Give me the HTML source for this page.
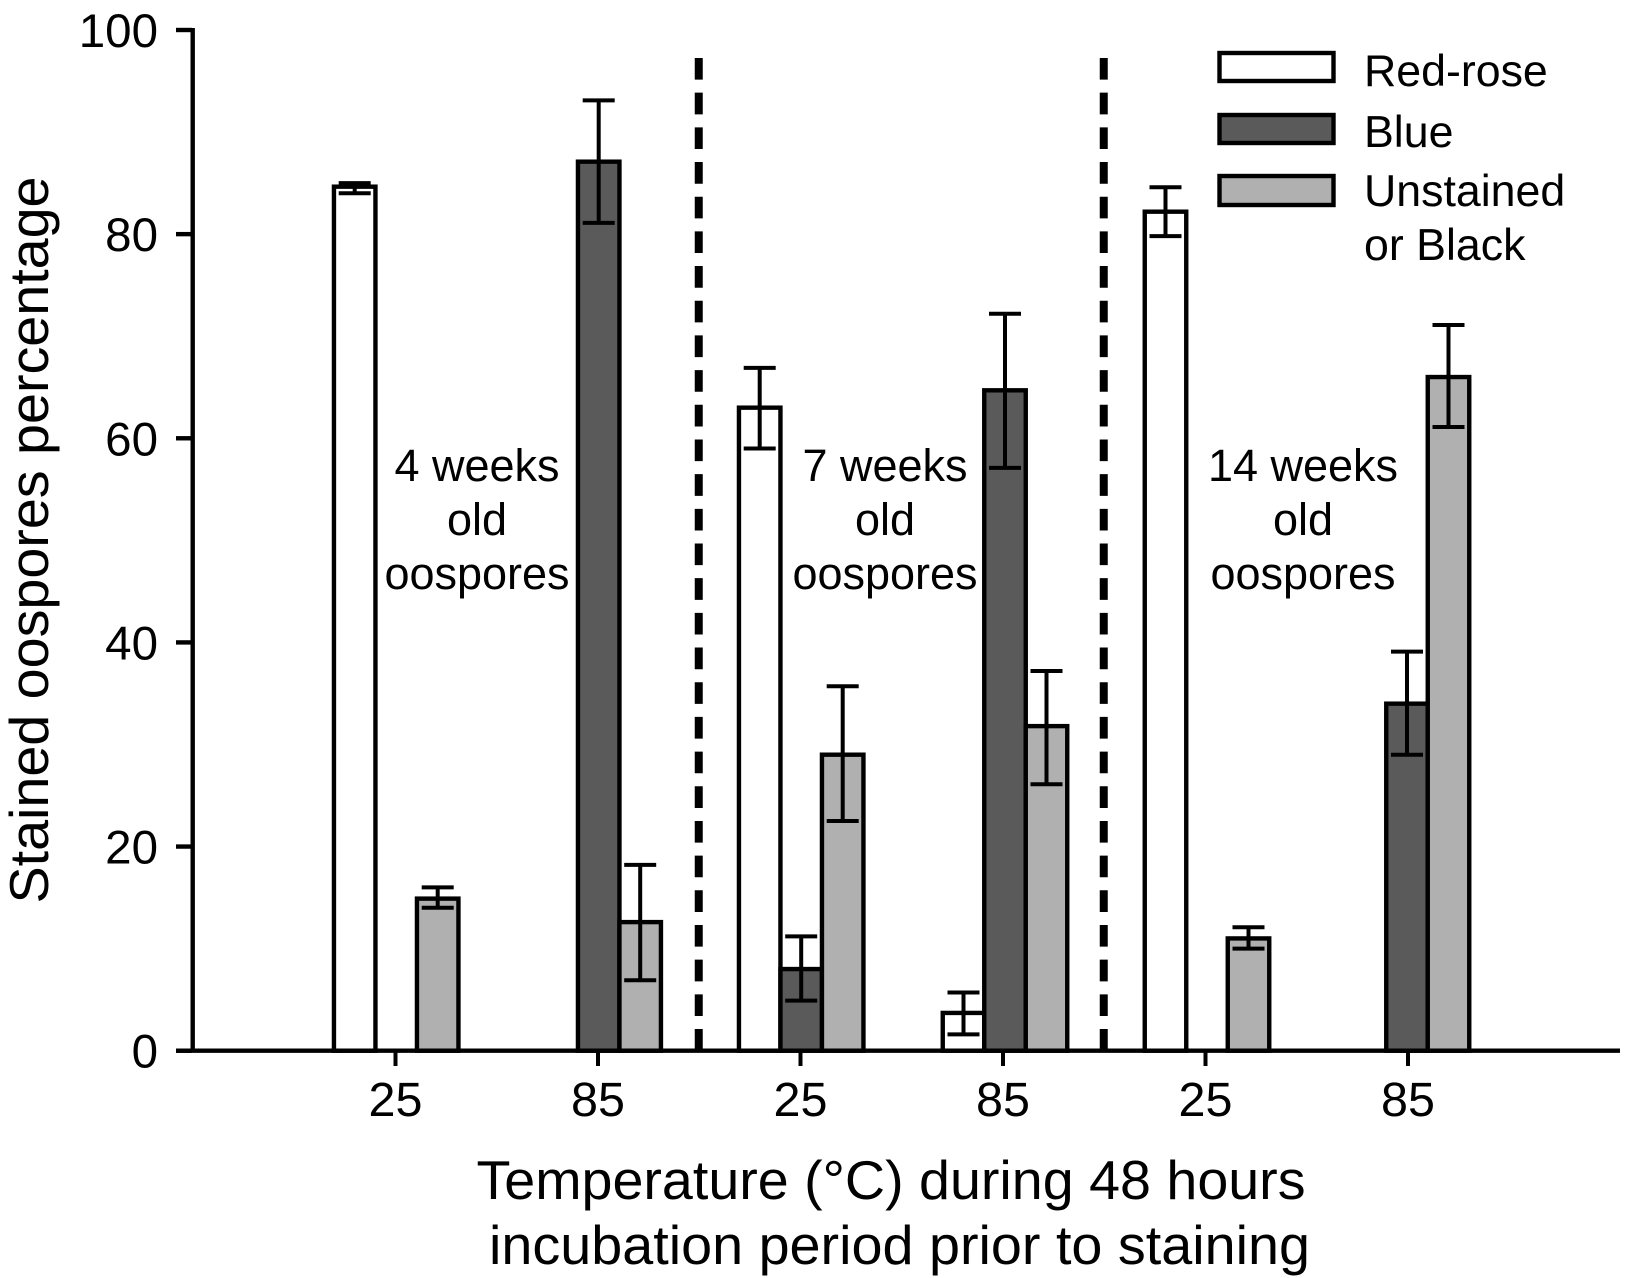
<!DOCTYPE html>
<html lang="en">
<head>
<meta charset="utf-8">
<title>Stained oospores percentage</title>
<style>
html,body{margin:0;padding:0;background:#fff;}
svg{display:block;}
text{font-family:"Liberation Sans",Arial,sans-serif;fill:#000;}
</style>
</head>
<body>
<svg id="chart" xmlns="http://www.w3.org/2000/svg" width="1625" height="1278" viewBox="0 0 1625 1278">
  <rect x="0" y="0" width="1625" height="1278" fill="#fff"/>
  <g id="marks"></g>
  <g id="axes"></g>
  <text transform="translate(48,540) rotate(-90)" text-anchor="middle" font-size="55" textLength="727" lengthAdjust="spacingAndGlyphs">Stained oospores percentage</text>
  <text x="476.5" y="1199" font-size="55" textLength="829" lengthAdjust="spacingAndGlyphs">Temperature (°C) during 48 hours</text>
  <text x="489" y="1264" font-size="55" textLength="821" lengthAdjust="spacingAndGlyphs">incubation period prior to staining</text>
  <g font-size="45" text-anchor="middle">
    <text x="477" y="481">4 weeks</text>
    <text x="477" y="535">old</text>
    <text x="477" y="589">oospores</text>
  </g>
  <g font-size="45" text-anchor="middle">
    <text x="885" y="481">7 weeks</text>
    <text x="885" y="535">old</text>
    <text x="885" y="589">oospores</text>
  </g>
  <g font-size="45" text-anchor="middle">
    <text x="1303" y="481">14 weeks</text>
    <text x="1303" y="535">old</text>
    <text x="1303" y="589">oospores</text>
  </g>
  <g>
    <rect x="1219.5" y="53" width="114" height="28" fill="#fff" stroke="#000" stroke-width="4.4"/>
    <text x="1364" y="86" font-size="44.7">Red-rose</text>
    <rect x="1219.5" y="115" width="114" height="28" fill="#5a5a5a" stroke="#000" stroke-width="4.4"/>
    <text x="1364" y="147" font-size="44.7">Blue</text>
    <rect x="1219.5" y="176" width="114" height="29" fill="#b0b0b0" stroke="#000" stroke-width="4.4"/>
    <text x="1364" y="206" font-size="44.7">Unstained</text>
    <text x="1364" y="260" font-size="44.7">or Black</text>
  </g>
</svg>
<script>
// Category and tick data
const categories = ['25', '85', '25', '85', '25', '85'];
const yTicks = [0, 20, 40, 60, 80, 100];
const dividerAfter = [1, 3];

// Bar heights (null = no bar drawn)
const redRose = [84.65, null, 63, 3.7, 82.2, null];
const blue = [null, 87.1, 8, 64.7, null, 34];
const unstained = [14.9, 12.6, 29, 31.8, 11, 66];

// Error bar ends
const redRoseHigh = [85, null, 66.9, 5.7, 84.6, null];
const redRoseLow = [84, null, 59, 1.6, 79.8, null];
const blueHigh = [null, 93.1, 11.2, 72.2, null, 39.1];
const blueLow = [null, 81.1, 4.9, 57.1, null, 29];
const unstainedHigh = [16, 18.2, 35.7, 37.2, 12.1, 71.1];
const unstainedLow = [14, 6.9, 22.5, 26.1, 10, 61.1];

const SVG_NS = 'http://www.w3.org/2000/svg';
const marks = document.getElementById('marks');
const axes = document.getElementById('axes');

function yScale(v) { return 1050.7 - 10.207 * v; }
function xScale(i) { return 395.5 + 202.5 * i; }
function barCentre(i) {
  if (i === 3) return xScale(i) + 2;
  if (i === 4) return xScale(i) + 1.5;
  if (i === 5) return xScale(i) - 1;
  return xScale(i) + 0.7;
}

function make(tag, parent, attrs) {
  const node = document.createElementNS(SVG_NS, tag);
  Object.keys(attrs).forEach(function (k) { node.setAttribute(k, attrs[k]); });
  parent.appendChild(node);
  return node;
}

const seriesOrder = [
  { key: 'red-rose', vals: redRose, hi: redRoseHigh, lo: redRoseLow, fill: '#ffffff', offset: -41.5 },
  { key: 'blue', vals: blue, hi: blueHigh, lo: blueLow, fill: '#5a5a5a', offset: 0 },
  { key: 'unstained', vals: unstained, hi: unstainedHigh, lo: unstainedLow, fill: '#b0b0b0', offset: 41.5 }
];

// Bars
seriesOrder.forEach(function (s) {
  s.vals.forEach(function (v, i) {
    if (v === null) return;
    const cx = barCentre(i) + s.offset;
    const el = make('rect', marks, {
      x: cx - 20.75,
      y: yScale(v),
      width: 41.5,
      height: yScale(0) - yScale(v),
      fill: s.fill,
      stroke: '#000',
      'stroke-width': 4.4
    });
    
    
  });
});

// Error bars
seriesOrder.forEach(function (s) {
  s.vals.forEach(function (v, i) {
    if (v === null) return;
    const cx = barCentre(i) + s.offset;
    const top = yScale(s.hi[i]);
    const bottom = yScale(s.lo[i]);
    const el = make('path', marks, {
      d: 'M' + (cx - 16) + ' ' + top + 'H' + (cx + 16) +
         'M' + cx + ' ' + top + 'V' + bottom +
         'M' + (cx - 16) + ' ' + bottom + 'H' + (cx + 16),
      fill: 'none',
      stroke: '#000',
      'stroke-width': 4
    });
    
    
  });
});

// Group dividers
dividerAfter.forEach(function (i) {
  const dx = (xScale(i) + xScale(i + 1)) / 2 - 0.5;
  const el = make('line', marks, {
    x1: dx, x2: dx, y1: yScale(0), y2: 58,
    stroke: '#000',
    'stroke-width': 8,
    'stroke-dasharray': '21.68 13'
  });
  
  
});

// Axis lines
const yAxisLine = make('line', axes, { x1: 192.7, x2: 192.7, y1: yScale(100) - 2, y2: yScale(0), stroke: '#000', 'stroke-width': 4.4 });



const xAxisLine = make('line', axes, { x1: 176, x2: 1620, y1: yScale(0), y2: yScale(0), stroke: '#000', 'stroke-width': 4.4 });



// Y ticks
yTicks.forEach(function (t) {
  const tick = make('line', axes, { x1: 176, x2: 192, y1: yScale(t), y2: yScale(t), stroke: '#000', 'stroke-width': 4.4 });
  
  
  const label = make('text', axes, { x: 158, y: yScale(t) + 17, 'text-anchor': 'end', 'font-size': 47.5 });
  label.textContent = String(t);
  
  
});

// X ticks
categories.forEach(function (c, i) {
  const tick = make('line', axes, { x1: xScale(i), x2: xScale(i), y1: yScale(0), y2: 1066, stroke: '#000', 'stroke-width': 4 });
  
  
  const label = make('text', axes, { x: xScale(i), y: 1116, 'text-anchor': 'middle', 'font-size': 48.5 });
  label.textContent = c;
  
  
});
</script>
</body>
</html>
